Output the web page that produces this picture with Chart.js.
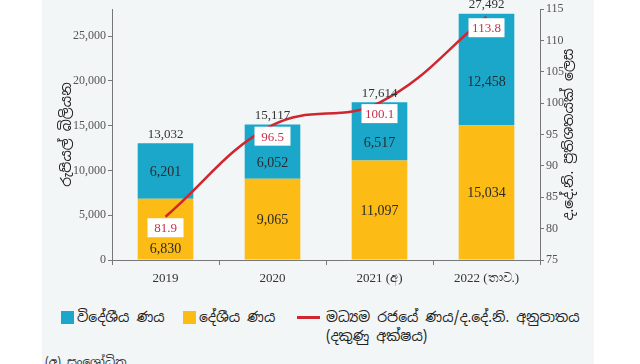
<!DOCTYPE html>
<html>
<head>
<meta charset="utf-8">
<script src="https://cdn.jsdelivr.net/npm/chart.js@4.4.0/dist/chart.umd.min.js"></script>
<style>
    html, body { margin: 0; padding: 0; background: #ffffff; }
    body { width: 640px; height: 364px; position: relative; overflow: hidden;
           font-family: "Noto Sans Sinhala", "Iskoola Pota", "Noto Sans", "DejaVu Sans", sans-serif; color: #222; }
    .panel { position: absolute; left: 42px; top: 0; width: 552px; height: 364px; background: #f3f6f6; }
    #chartWrap { position: absolute; left: 0; top: 0; width: 640px; height: 300px; }
    .legend { position: absolute; top: 308px; font-size: 14px; line-height: 19px; white-space: nowrap; }
    .sw { position: absolute; width: 13px; height: 13px; top: 3px; left: 0; }
    .ln { position: absolute; width: 23px; height: 3px; top: 8px; left: 0; background: #d02630; }
    .footer { position: absolute; left: 45px; top: 354px; font-size: 12px; color: #333; }
</style>
</head>
<body>
<div class="panel"></div>
<div id="chartWrap"><canvas id="debtChart" width="640" height="300"></canvas></div>

<div class="legend" style="left:61px;"><span class="sw" style="background:#1aa7c9;"></span><span style="margin-left:16px;">විදේශීය ණය</span></div>
<div class="legend" style="left:183px;"><span class="sw" style="background:#fcbb15;"></span><span style="margin-left:16px;">දේශීය ණය</span></div>
<div class="legend" style="left:297px;"><span class="ln"></span><div style="margin-left:29px;">මධ්‍යම රජයේ ණය/ද.දේ.නි. අනුපාතය<br>(දකුණු අක්ෂය)</div></div>
<div class="footer">(අ) සංශෝධිත</div>

<script>
// Central government debt, Rs. billion, and debt / GDP ratio
var years = ['2019', '2020', '2021 (අ)', '2022 (තාව.)'];
var domesticDebt = [6830, 9065, 11097, 15034];
var foreignDebt = [6201, 6052, 6517, 12458];
var totalDebt = [13032, 15117, 17614, 27492];
var debtToGdp = [81.9, 96.5, 100.1, 113.8];

var leftTicks = [0, 5000, 10000, 15000, 20000, 25000];
var rightTicks = [75, 80, 85, 90, 95, 100, 105, 110, 115];

var serif = '"Liberation Serif", "DejaVu Serif", serif';
var sinhala = '"Noto Sans Sinhala", "Iskoola Pota", "Noto Sans", "DejaVu Sans", sans-serif';

function fmt(v) {
    return v.toLocaleString('en-US');
}

// value labels, totals and ratio boxes
var labelPlugin = {
    id: 'labels',
    afterDatasetsDraw: function (chart) {
        var ctx = chart.ctx;
        var lineMeta = chart.getDatasetMeta(2);
        var boxW = 36, boxH = 19;
        var boxes = lineMeta.data.map(function (pt) {
            var cy = pt.y + 11;
            return { x: pt.x, top: cy - boxH / 2, bottom: cy + boxH / 2, cy: cy };
        });

        ctx.save();
        ctx.textAlign = 'center';
        ctx.textBaseline = 'middle';

        // segment values
        ctx.font = '14px ' + serif;
        ctx.fillStyle = '#2b2b2b';
        [0, 1].forEach(function (di) {
            var meta = chart.getDatasetMeta(di);
            var vals = chart.data.datasets[di].data;
            meta.data.forEach(function (el, i) {
                var top = Math.min(el.y, el.base);
                var bottom = Math.max(el.y, el.base);
                var b = boxes[i];
                if (b.cy > top && b.cy < bottom) {
                    top = Math.max(top, b.bottom);
                }
                ctx.fillText(fmt(vals[i]), el.x, (top + bottom) / 2 + 1);
            });
        });

        // totals above bars
        ctx.font = '13px ' + serif;
        ctx.fillStyle = '#333';
        var topMeta = chart.getDatasetMeta(1);
        topMeta.data.forEach(function (el, i) {
            ctx.fillText(fmt(totalDebt[i]), el.x, el.y - 9);
        });

        // ratio boxes
        ctx.font = '13px ' + serif;
        boxes.forEach(function (b, i) {
            ctx.fillStyle = '#ffffff';
            ctx.fillRect(b.x - boxW / 2, b.top, boxW, boxH);
            ctx.fillStyle = '#c8304a';
            ctx.fillText(debtToGdp[i].toFixed(1), b.x, b.cy + 1);
        });

        // axis titles, both read bottom to top
        ctx.font = '14px ' + sinhala;
        ctx.fillStyle = '#222';
        var midY = (chart.chartArea.top + chart.chartArea.bottom) / 2;
        ctx.save();
        ctx.translate(chart.chartArea.left - 45, midY);
        ctx.rotate(-Math.PI / 2);
        ctx.fillText('රුපියල් බිලියන', 0, 0);
        ctx.restore();
        ctx.save();
        ctx.translate(chart.chartArea.right + 29, midY);
        ctx.rotate(-Math.PI / 2);
        ctx.fillText('ද.දේ.නි. ප්‍රතිශතයක් ලෙස', 0, 0);
        ctx.restore();

        ctx.restore();
    }
};

var ctx = document.getElementById('debtChart').getContext('2d');
var debtChart = new Chart(ctx, {
    data: {
        labels: years,
        datasets: [{
            type: 'bar',
            label: 'දේශීය ණය',
            data: domesticDebt,
            backgroundColor: '#fcbb15',
            yAxisID: 'y',
            stack: 'debt',
            order: 1,
            barPercentage: 0.52,
            categoryPercentage: 1
        }, {
            type: 'bar',
            label: 'විදේශීය ණය',
            data: foreignDebt,
            backgroundColor: '#1aa7c9',
            yAxisID: 'y',
            stack: 'debt',
            order: 1,
            barPercentage: 0.52,
            categoryPercentage: 1
        }, {
            type: 'line',
            label: 'මධ්‍යම රජයේ ණය/ද.දේ.නි. අනුපාතය',
            data: debtToGdp,
            borderColor: '#d02630',
            borderWidth: 2.5,
            pointRadius: 0,
            tension: 0.4,
            yAxisID: 'y1',
            order: 0
        }]
    },
    options: {
        responsive: false,
        animation: false,
        layout: { padding: { top: 8, left: 0, right: 0, bottom: 0 } },
        plugins: {
            legend: { display: false },
            tooltip: { enabled: false }
        },
        scales: {
            x: {
                stacked: true,
                offset: true,
                afterFit: function (s) { s.height = 40; },
                grid: { display: true, drawOnChartArea: false, offset: true, tickLength: 5, color: '#777' },
                border: { color: '#777' },
                ticks: { color: '#333', padding: 6, font: { family: serif, size: 13 } }
            },
            y: {
                stacked: true,
                position: 'left',
                min: 0,
                max: 28000,
                afterFit: function (s) { s.width = 112; },
                afterBuildTicks: function (s) { s.ticks = leftTicks.map(function (v) { return { value: v }; }); },
                grid: { display: true, drawOnChartArea: false, tickLength: 4, color: '#777' },
                border: { color: '#777' },
                ticks: {
                    color: '#555', padding: 2, font: { family: serif, size: 12 },
                    callback: function (v) { return fmt(v); }
                }
            },
            y1: {
                position: 'right',
                min: 75,
                max: 115,
                afterFit: function (s) { s.width = 100; },
                afterBuildTicks: function (s) { s.ticks = rightTicks.map(function (v) { return { value: v }; }); },
                grid: { display: true, drawOnChartArea: false, tickLength: 4, color: '#777' },
                border: { color: '#777' },
                ticks: { color: '#555', padding: 2, font: { family: serif, size: 12 } }
            }
        }
    },
    plugins: [labelPlugin]
});
</script>
</body>
</html>
